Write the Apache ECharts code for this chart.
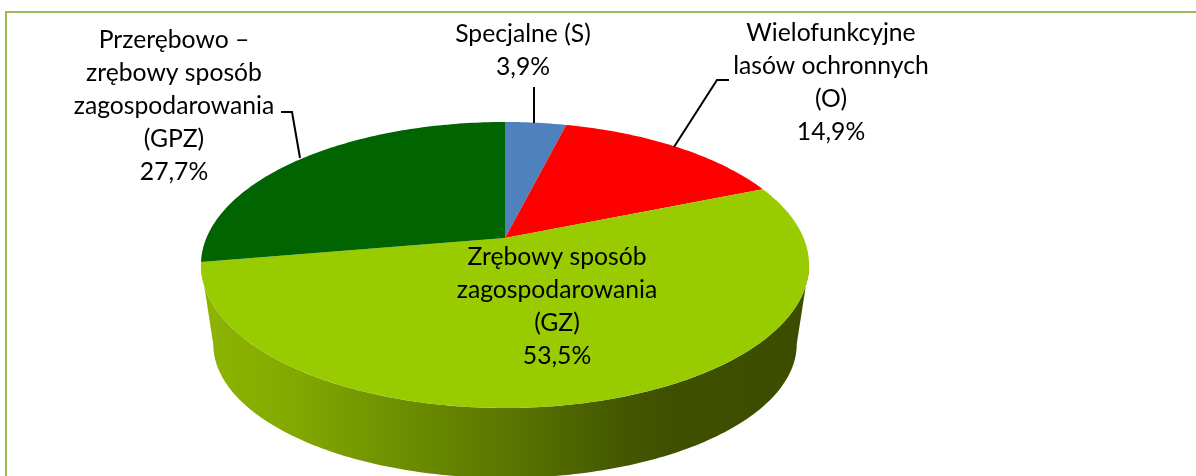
<!DOCTYPE html>
<html>
<head>
<meta charset="utf-8">
<script src="https://cdn.jsdelivr.net/npm/echarts@6/dist/echarts.min.js"></script>
<style>
  html, body { margin: 0; padding: 0; background: #fff; }
  #chart { width: 1196px; height: 476px; }
</style>
</head>
<body>
<div id="chart"></div>
<script>
const categories = ['Specjalne (S)', 'Wielofunkcyjne\nlasów ochronnych\n(O)', 'Zrębowy sposób\nzagospodarowania\n(GZ)', 'Przerębowo –\nzrębowy sposób\nzagospodarowania\n(GPZ)']
const shares = [3.9, 14.9, 53.5, 27.7]
const sliceColors = ['#4f81bd', '#ff0000', '#99cc00', '#006400']

// perspective of the disc: top plane and bottom plane, C = foreshortening
const CX = 505
const C = 0.1888
const TOP = { cy: 238, rx: 298.6, ry: 137.9 }
const BOTTOM = { cy: 318.7, rx: 286.5, ry: 129.2 }
// the part of the rim that faces the viewer
const FRONT_FROM = Math.acos(-C)
const FRONT_TO = 2 * Math.PI - FRONT_FROM

// label centres and leader lines, same order as categories
const labelPos = [[523, 51], [831, 83], [557, 307], [174, 106]]
const leaders = [
  [[534, 87], [534, 123]],
  [[729, 80], [717, 80], [674, 147]],
  [],
  [[281, 112], [292, 112], [300, 158]]
]

const total = shares.reduce((a, b) => a + b, 0)
const toAngle = (v) => (v / total) * Math.PI * 2

function project(plane, a) {
  const d = 1 + C * Math.cos(a)
  return [CX + (plane.rx * Math.sin(a)) / d, plane.cy - (plane.ry * Math.cos(a)) / d]
}

function arc(plane, from, to) {
  const n = Math.max(2, Math.ceil(Math.abs(to - from) * 60))
  const pts = []
  for (let i = 0; i <= n; i++) pts.push(project(plane, from + ((to - from) * i) / n))
  return pts
}

function sliceStart(i) {
  let sum = 0
  for (let k = 0; k < i; k++) sum += shares[k]
  return toAngle(sum)
}

const wallGradient = {
  type: 'linear', global: true, x: 205, y: 0, x2: 800, y2: 0,
  colorStops: [
    { offset: 0, color: '#8cb400' },
    { offset: 0.15, color: '#83a900' },
    { offset: 0.33, color: '#6d8e00' },
    { offset: 0.5, color: '#5c7700' },
    { offset: 0.68, color: '#465a00' },
    { offset: 0.78, color: '#3f5000' },
    { offset: 1, color: '#3d4d00' }
  ]
}

function renderWall(params, api) {
  const start = sliceStart(params.dataIndex)
  const from = Math.max(start, FRONT_FROM)
  const to = Math.min(start + toAngle(api.value(0)), FRONT_TO)
  if (to <= from) return null
  const points = arc(TOP, from, to).concat(arc(BOTTOM, to, from))
  return { type: 'polygon', shape: { points }, style: { fill: wallGradient } }
}

function renderTop(params, api) {
  const from = sliceStart(params.dataIndex)
  const to = from + toAngle(api.value(0))
  return {
    type: 'polygon',
    shape: { points: [[CX, TOP.cy]].concat(arc(TOP, from, to)) },
    style: { fill: sliceColors[params.dataIndex] }
  }
}

function renderLabel(params, api) {
  const i = params.dataIndex
  const pct = api.value(0).toFixed(1).replace('.', ',') + '%'
  const [x, y] = labelPos[i]
  const children = [{
    type: 'text',
    style: {
      x, y, text: categories[i] + '\n' + pct,
      align: 'center', verticalAlign: 'middle',
      font: '24.7px Lato', lineHeight: 33, fill: '#000'
    }
  }]
  if (leaders[i].length) {
    children.push({
      type: 'polyline',
      shape: { points: leaders[i] },
      style: { stroke: '#000', lineWidth: 2, fill: null }
    })
  }
  return { type: 'group', children }
}

const sliceData = shares.map((v) => [v])
const chart = echarts.init(document.getElementById('chart'), null, { renderer: 'canvas' })
chart.setOption({
  animation: false,
  backgroundColor: '#fff',
  graphic: [{
    type: 'polyline', silent: true,
    shape: { points: [[6, 500], [6, 12], [1200, 12]] },
    style: { stroke: '#9bbb59', lineWidth: 2, fill: null }
  }],
  series: [
    { type: 'custom', coordinateSystem: 'none', silent: true, z: 1, data: sliceData, renderItem: renderWall },
    { type: 'custom', coordinateSystem: 'none', silent: true, z: 2, data: sliceData, renderItem: renderTop },
    { type: 'custom', coordinateSystem: 'none', silent: true, z: 3, data: sliceData, renderItem: renderLabel }
  ]
})
</script>
</body>
</html>
